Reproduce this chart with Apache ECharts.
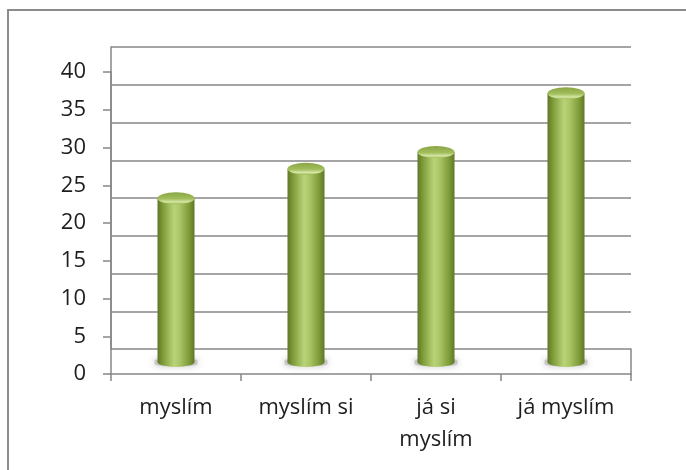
<!DOCTYPE html>
<html>
<head>
<meta charset="utf-8">
<script src="https://cdn.jsdelivr.net/npm/echarts@6/dist/echarts.min.js"></script>
<style>
  html, body { margin: 0; padding: 0; background: #fff; }
  #wrap { position: relative; width: 686px; height: 470px; overflow: hidden; }
  #frame { position: absolute; left: 7px; top: 9px; width: 700px; height: 480px;
           border-left: 2px solid #8c8c8c; border-top: 2px solid #8c8c8c; }
  #chart { position: absolute; left: 0; top: 0; width: 686px; height: 470px; }
</style>
</head>
<body>
<div id="wrap">
  <div id="frame"></div>
  <div id="chart"></div>
</div>
<script>
// ---- data ----
const categories = ['myslím', 'myslím si', 'já si\nmyslím', 'já myslím'];
const values = [21.7, 25.6, 27.8, 35.6];
const yMin = 0;
const yMax = 40;
const yStep = 5;

// ---- styling ----
const FONT = '"Open Sans", sans-serif';
const GRID_COLOR = '#878787';
const BAR_W = 37;

const barGradient = new echarts.graphic.LinearGradient(0, 0, 1, 0, [
  { offset: 0, color: '#5e7826' },
  { offset: 0.15, color: '#7f9c3a' },
  { offset: 0.45, color: '#b9d478' },
  { offset: 0.6, color: '#a9c566' },
  { offset: 0.85, color: '#7f9c38' },
  { offset: 1, color: '#5e7826' }
]);
const topGradient = new echarts.graphic.LinearGradient(0, 0, 0, 1, [
  { offset: 0, color: '#8aa544' },
  { offset: 0.55, color: '#a2bd5c' },
  { offset: 0.82, color: '#d6e8a6' },
  { offset: 1, color: '#9ab652' }
]);

const L = 111, R = 55;
const chart = echarts.init(document.getElementById('chart'), null, { renderer: 'canvas' });

const option = {
  animation: false,
  backgroundColor: 'transparent',
  grid: [
    // back wall
    { left: L, right: R, top: 47, bottom: 121 },
    // front axes
    { left: L, right: R, top: 72, bottom: 96 },
    // floor side edge
    { left: L, right: R, top: 349, bottom: 96 },
    // bars (middle depth)
    { left: L, right: R, top: 60, bottom: 108 }
  ],
  xAxis: [
    { gridIndex: 0, type: 'category', data: categories, axisLine: { show: false },
      axisTick: { show: false }, axisLabel: { show: false } },
    { gridIndex: 1, type: 'category', data: categories, boundaryGap: true,
      axisLine: { show: true, lineStyle: { color: GRID_COLOR, width: 1.5 } },
      axisTick: { show: true, length: 7, inside: false, alignWithLabel: false,
                  lineStyle: { color: GRID_COLOR, width: 1.5 } },
      axisLabel: { show: true, interval: 0, margin: 18, color: '#1e1e1e',
                   fontFamily: FONT, fontSize: 22, lineHeight: 32 } },
    { gridIndex: 2, type: 'category', data: categories, axisLine: { show: false },
      axisTick: { show: false }, axisLabel: { show: false } },
    { gridIndex: 3, type: 'category', data: categories, axisLine: { show: false },
      axisTick: { show: false }, axisLabel: { show: false } }
  ],
  yAxis: [
    { gridIndex: 0, type: 'value', min: yMin, max: yMax, interval: yStep,
      axisLine: { show: true, lineStyle: { color: GRID_COLOR, width: 1.5 } },
      axisTick: { show: false }, axisLabel: { show: false },
      splitLine: { show: true, lineStyle: { color: GRID_COLOR, width: 1.5 } } },
    { gridIndex: 1, type: 'value', min: yMin, max: yMax, interval: yStep,
      axisLine: { show: true, lineStyle: { color: GRID_COLOR, width: 1.5 } },
      axisTick: { show: true, length: 8, inside: false, lineStyle: { color: GRID_COLOR, width: 1.5 } },
      axisLabel: { show: true, margin: 25, color: '#1e1e1e', fontFamily: FONT, fontSize: 22 },
      splitLine: { show: false } },
    { gridIndex: 2, type: 'value', position: 'right', min: 0, max: 1,
      axisLine: { show: true, lineStyle: { color: GRID_COLOR, width: 1.5 } },
      axisTick: { show: false }, axisLabel: { show: false }, splitLine: { show: false } },
    { gridIndex: 3, type: 'value', min: yMin, max: yMax, interval: yStep, show: false }
  ],
  series: [
    { // floor shadow
      type: 'pictorialBar', xAxisIndex: 3, yAxisIndex: 3, z: 3,
      data: values, symbol: 'roundRect', symbolSize: [BAR_W + 6, 7],
      symbolPosition: 'start', symbolOffset: [0, '55%'],
      itemStyle: { color: 'rgba(170,170,170,0.55)', shadowColor: 'rgba(130,130,130,0.9)', shadowBlur: 7 }
    },
    { // cylinder body
      type: 'bar', xAxisIndex: 3, yAxisIndex: 3, z: 4,
      data: values, barWidth: BAR_W,
      itemStyle: { color: barGradient }
    },
    { // bottom cap
      type: 'pictorialBar', xAxisIndex: 3, yAxisIndex: 3, z: 5,
      data: values, symbol: 'circle', symbolSize: [BAR_W, 10],
      symbolPosition: 'start', symbolOffset: [0, '50%'],
      itemStyle: { color: barGradient }
    },
    { // top cap
      type: 'pictorialBar', xAxisIndex: 3, yAxisIndex: 3, z: 6,
      data: values, symbol: 'circle', symbolSize: [BAR_W, 12],
      symbolPosition: 'end', symbolOffset: [0, '-50%'],
      itemStyle: { color: topGradient }
    }
  ]
};
chart.setOption(option);
</script>
</body>
</html>
